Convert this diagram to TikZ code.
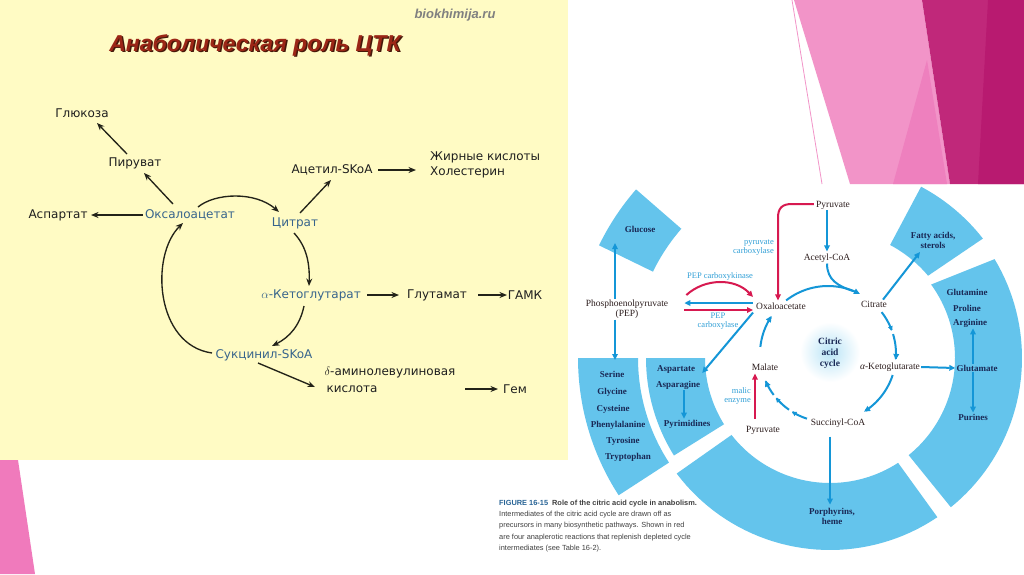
\documentclass[tikz,border=0pt]{standalone}
\usepackage{fontspec}
\setmainfont{Liberation Serif}
\newfontfamily\dejavu{DejaVu Sans}
\newfontfamily\libsans{Liberation Sans}
\usetikzlibrary{arrows.meta,calc}
\definecolor{panelY}{RGB}{255,251,196}
\definecolor{titleR}{RGB}{155,38,22}
\definecolor{titleS}{RGB}{70,25,10}
\definecolor{cycB}{RGB}{55,100,140}
\definecolor{arrK}{RGB}{35,35,25}
\definecolor{secB}{RGB}{100,196,236}
\definecolor{arrB}{RGB}{20,150,215}
\definecolor{arrR}{RGB}{215,25,80}
\definecolor{navy}{RGB}{25,40,85}
\definecolor{intK}{RGB}{45,30,30}
\definecolor{enzB}{RGB}{50,160,215}
\definecolor{pinkL}{RGB}{242,148,200}
\definecolor{pinkM}{RGB}{238,128,190}
\definecolor{magA}{RGB}{192,40,122}
\definecolor{magB}{RGB}{184,26,112}
\definecolor{pinkBL}{RGB}{240,122,188}
\definecolor{capB}{RGB}{40,100,150}
\newcommand{\ringsec}[6]{\fill[secfill] plot[domain=#2:#3,samples=40] ({830+#1*cos(\x)},{358+#1*sin(\x)}) -- plot[domain=#6:#5,samples=40] ({830+#4*cos(\x)},{358+#4*sin(\x)}) -- cycle;}
\newcommand{\cyc}[3][]{\draw[#1] plot[domain=#2:#3,samples=25] ({828+68*cos(\x)},{354+68*sin(\x)});}
\begin{document}
\begin{tikzpicture}[x=1pt,y=-1pt,
  lt/.style={font={\dejavu\fontsize{12}{14}\selectfont}, text=black!88, inner sep=1pt},
  lc/.style={lt, text=cycB},
  la/.style={draw=arrK, line width=1.35pt, -{Stealth[length=7.5pt,width=6pt]}},
  ttl/.style={font={\libsans\bfseries\itshape\fontsize{23}{25}\selectfont}, inner sep=0pt},
  rt/.style={font={\fontsize{9.5}{10}\selectfont}, text=intK, inner sep=1pt},
  sl/.style={font={\bfseries\fontsize{9}{10}\selectfont}, text=navy, inner sep=1pt},
  el/.style={font={\fontsize{8.5}{9}\selectfont}, text=enzB, inner sep=1pt, align=center},
  ba/.style={draw=arrB, line width=2pt, -{Triangle[length=6pt,width=5.5pt]}},
  bas/.style={draw=arrB, line width=2pt, -{Triangle[length=4.5pt,width=4.5pt]}},
  bl/.style={draw=arrB, line width=2pt},
  ra/.style={draw=arrR, line width=2pt, -{Triangle[length=6pt,width=5.5pt]}},
  secfill/.style={fill=secB},
  captext/.style={font={\libsans\fontsize{7.4}{11.2}\selectfont}, text=black!75, inner sep=0pt, align=left}]
\useasboundingbox (0,0) rectangle (1024,574);
\fill[white] (0,0) rectangle (1024,574);
% decorations
\fill[pinkL] (794,0) -- (922,0) -- (950,184) -- (850,184) -- cycle;
\fill[pinkM] (893,184) -- (947,184) -- (927,60) -- cycle;
\fill[magA] (922,0) -- (1024,0) -- (1024,184) -- (950,184) -- cycle;
\fill[magB] (988,0) -- (1024,0) -- (1024,184) -- (978,184) -- cycle;
\draw[pinkL, line width=0.8pt] (792,0) -- (822,184);
\fill[pinkBL] (0,460) -- (18,460) -- (35,574) -- (0,574) -- cycle;
% left panel
\fill[panelY] (0,0) rectangle (568,460);
\node[ttl, text=titleS] (ttls) at (256.5,46.5) {Анаболическая роль ЦТК};
\node[ttl, text=titleR] (ttlm) at (255,45) {Анаболическая роль ЦТК};
\node[font={\libsans\bfseries\itshape\fontsize{13}{14}\selectfont}, text=black!50, inner sep=0pt] (site) at (455,15) {biokhimija.ru};

\node[lt] (glu) at (82,113) {Глюкоза};
\node[lt] (pyr) at (135,163) {Пируват};
\node[lt] (asp) at (58,215) {Аспартат};
\node[lc] (oaa) at (190,215) {Оксалоацетат};
\node[lc] (cit) at (295,223) {Цитрат};
\node[lt] (acs) at (332,170) {Ацетил-SKoA};
\node[lt, align=left, anchor=west, font={\dejavu\fontsize{12}{15}\selectfont}] (fa) at (429,165) {Жирные кислоты\\Холестерин};
\node[lc] (akg) at (311,295) {$\alpha$-Кетоглутарат};
\node[lt] (glut) at (437,295) {Глутамат};
\node[lt] (gaba) at (525,295) {ГАМК};
\node[lc] (suc) at (264,355) {Сукцинил-SKoA};
\node[lt] (ala) at (390,373) {$\delta$-аминолевулиновая};
\node[lt] (kis) at (352,389) {кислота};
\node[lt] (gem) at (515,389) {Гем};

\draw[la] ($(oaa)+(-47,0)$) -- ($(asp)+(33,0)$);
\draw[la] ($(oaa)+(-17,-11)$) -- ($(pyr)+(9,10)$);
\draw[la] ($(pyr)+(-8,-9)$) -- ($(glu)+(15,10)$);
\draw[la] ($(oaa)+(8,-8)$) .. controls (215,193) and (255,191) .. ($(cit)+(-16,-11)$);
\draw[la] ($(cit)+(5,-10)$) -- ($(acs)+(-1,10)$);
\draw[la] ($(acs)+(46,0)$) -- ($(fa.west)+(-13,5)$);
\draw[la] ($(cit)+(-1,10)$) .. controls (305,245) and (310,260) .. ($(akg)+(-2,-9)$);
\draw[la] ($(akg)+(56,0)$) -- ($(glut)+(-38,0)$);
\draw[la] ($(glut)+(41,0)$) -- ($(gaba)+(-18,0)$);
\draw[la] ($(akg)+(-7,11)$) .. controls (300,325) and (290,337) .. ($(suc)+(8,-9)$);
\draw[la] ($(suc)+(-52,-2)$) .. controls (155,345) and (150,255) .. ($(oaa)+(-7,8)$);
\draw[la] ($(suc)+(-6,8)$) -- ($(ala)+(-75,14)$);
\draw[la] ($(kis)+(113,0)$) -- ($(gem)+(-17,0)$);

% right figure
\ringsec{125}{57}{142}{192}{56}{143}
\ringsec{125}{-36}{51}{192}{-31}{51}
\ringsec{128}{-62}{-40}{194}{-62}{-38}
\ringsec{125}{148}{180}{184}{148}{180}
\ringsec{192}{147}{180}{252}{147}{180}
\ringsec{197}{206}{221}{257}{206}{221}
\shade[inner color=secB!45, outer color=white] (830,352) circle[radius=30pt];

\node[rt, align=center] (pepn) at (627,309) {Phosphoenolpyruvate\\(PEP)};
\node[rt] (oaar) at (781,306) {Oxaloacetate};
\node[rt] (pyrt) at (833,205) {Pyruvate};
\node[rt] (acoa) at (827,258) {Acetyl-CoA};
\node[rt] (citr) at (874,304) {Citrate};
\node[rt] (akgr) at (890,367) {{\itshape α}-Ketoglutarate};
\node[rt] (succ) at (838,423) {Succinyl-CoA};
\node[rt] (malr) at (765,367) {Malate};
\node[rt] (pyrb) at (763,430) {Pyruvate};
\node[sl, align=center, font={\bfseries\fontsize{9.5}{11}\selectfont}] (cac) at (830,353) {Citric\\acid\\cycle};

\node[sl] (glc) at (640,229) {Glucose};
\node[sl, align=center] (fas) at (933,240) {Fatty acids,\\sterols};
\node[sl] (ser) at (612,374) {Serine};
\node[sl] (gly) at (612,392) {Glycine};
\node[sl] (cys) at (613,409) {Cysteine};
\node[sl] (phe) at (618,425) {Phenylalanine};
\node[sl] (tyr) at (623,441) {Tyrosine};
\node[sl] (trp) at (628,457) {Tryptophan};
\node[sl] (aspr) at (676,369) {Aspartate};
\node[sl] (asn) at (678,385) {Asparagine};
\node[sl] (pyrm) at (687,424) {Pyrimidines};
\node[sl] (gln) at (967,292) {Glutamine};
\node[sl] (pro) at (967,308) {Proline};
\node[sl] (arg) at (970,323) {Arginine};
\node[sl] (glr) at (977,368) {Glutamate};
\node[sl] (pur) at (973,417) {Purines};
\node[sl, align=center] (por) at (832,516) {Porphyrins,\\heme};

\node[el] (pepck) at (720,276) {PEP carboxykinase};
\node[el] (pepc) at (718,321) {PEP\\carboxylase};
\node[el, align=right, anchor=east] (pc) at (775,248) {pyruvate\\carboxylase};
\node[el, align=right, anchor=east] (me) at (752,396) {malic\\enzyme};

\coordinate (gluin) at (615,243);
\coordinate (serin) at (615,360);
\coordinate (fain) at (920,252);
\draw[ba] ($(pepn.north)+(-12,0)$) -- (gluin);
\draw[ba] ($(pepn.south)+(-12,0)$) -- (serin);
\draw[ba] ($(oaar.west)+(-2,-3)$) -- ($(pepn.east)+(15,-6)$);
\draw[ra] ($(pepn.east)+(15,1)$) -- ($(oaar.west)+(-2,4)$);
\draw[ra] ($(pepn.east)+(17,-14)$) .. controls (705,278) and (735,278) .. ($(oaar.west)+(-2,-9)$);
\draw[ra] ($(pyrt.west)+(-1,-1)$) -- (792,204) .. controls (782,204) and (778,208) .. (778,218) -- ($(oaar.north)+(-3,-1)$);
\draw[ba] ($(pyrt.south)+(-6,0)$) -- ($(acoa.north)+(0,-1)$);
\cyc[ba]{232}{298}
\draw[bl] (acoa.south) .. controls (827,280) and (838,286) .. (853,291);
\cyc[bas]{322}{340}
\cyc[ba]{343}{365}
\cyc[ba]{18}{58}
\cyc[bas]{108}{122}
\cyc[bas]{125}{140}
\cyc[ba]{143}{157}
\cyc[ba]{186}{214}
\draw[ba] ($(citr.north)+(9,0)$) -- (fain);
\draw[ba] (akgr.east) -- (glr.west);
\draw[ba] ($(glr.north)+(-4,0)$) -- ($(arg.south)+(3,0)$);
\draw[ba] ($(glr.south)+(-4,0)$) -- (pur.north);
\draw[ba] ($(succ.south)+(-8,8)$) -- ($(por.north)+(-2,-2)$);
\draw[ba] ($(oaar.south west)+(-2,2)$) -- ($(aspr.east)+(6,4)$);
\draw[ba] ($(asn.south)+(6,0)$) -- ($(pyrm.north)+(-3,0)$);
\draw[ra] ($(pyrb.north)+(-8,-6)$) -- ($(malr.south)+(-10,2)$);

\node[captext, anchor=north west] (capt) at (499,500) {\textcolor{capB}{\bfseries FIGURE 16-15}\hspace{4pt}{\bfseries Role of the citric acid cycle in anabolism.}\\
Intermediates of the citric acid cycle are drawn off as\\
precursors in many biosynthetic pathways. Shown in red\\
are four anaplerotic reactions that replenish depleted cycle\\
intermediates (see Table 16-2).};
\end{tikzpicture}
\end{document}
